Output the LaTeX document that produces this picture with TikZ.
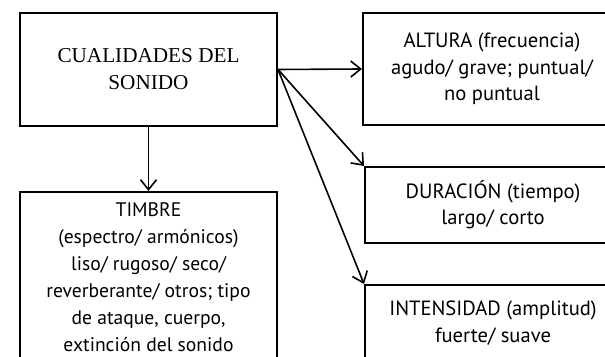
\documentclass[tikz,border=0pt]{standalone}
\usepackage{fontspec}
\setmainfont{PT Sans}
\newfontfamily\titlefont{Liberation Serif}
\usetikzlibrary{arrows.meta}

\begin{document}
\begin{tikzpicture}[x=0.5pt,y=-0.5pt,>={Straight Barb[length=5pt,width=8pt]},
	box/.style={draw,line width=1pt,align=center,inner sep=0pt,
		font=\fontsize{10.3}{13.2}\selectfont},
	link/.style={->,line width=0.8pt}]
	% visible part of the page (the boxes on the right and below run past it)
	\path[use as bounding box] (0,0) rectangle (605,357);
	\clip (0,0) rectangle (605,357);
	\node[box,minimum width=128.5pt,minimum height=56.5pt,
		font={\titlefont\fontsize{10.6}{13.5}\selectfont}] (cual) at (148.5,69.5)
		{CUALIDADES DEL\\SONIDO};
	\node[box,minimum width=128.5pt,minimum height=85pt,
		font=\fontsize{9.8}{13.5}\selectfont] (timbre) at (148.5,277)
		{TIMBRE\\(espectro/ armónicos)\\liso/ rugoso/ seco/\\reverberante/ otros; tipo\\de ataque, cuerpo,\\extinción del sonido};
	\node[box,minimum width=129pt,minimum height=56pt] (altura) at (492,69)
		{ALTURA (frecuencia)\\agudo/ grave; puntual/\\no puntual};
	\node[box,minimum width=128pt,minimum height=38pt] (duracion) at (493,205)
		{DURACIÓN (tiempo)\\largo/ corto};
	\node[box,minimum width=128pt,minimum height=38pt] (intensidad) at (493,323)
		{INTENSIDAD (amplitud)\\fuerte/ suave};
	% connectors
	\draw[link] (cual.south) -- (timbre.north);
	\draw[link] (cual.east) -- (altura.west);
	\draw[link] (cual.east) -- (duracion.north west);
	\draw[link] (cual.east) -- (intensidad.north west);
\end{tikzpicture}
\end{document}
